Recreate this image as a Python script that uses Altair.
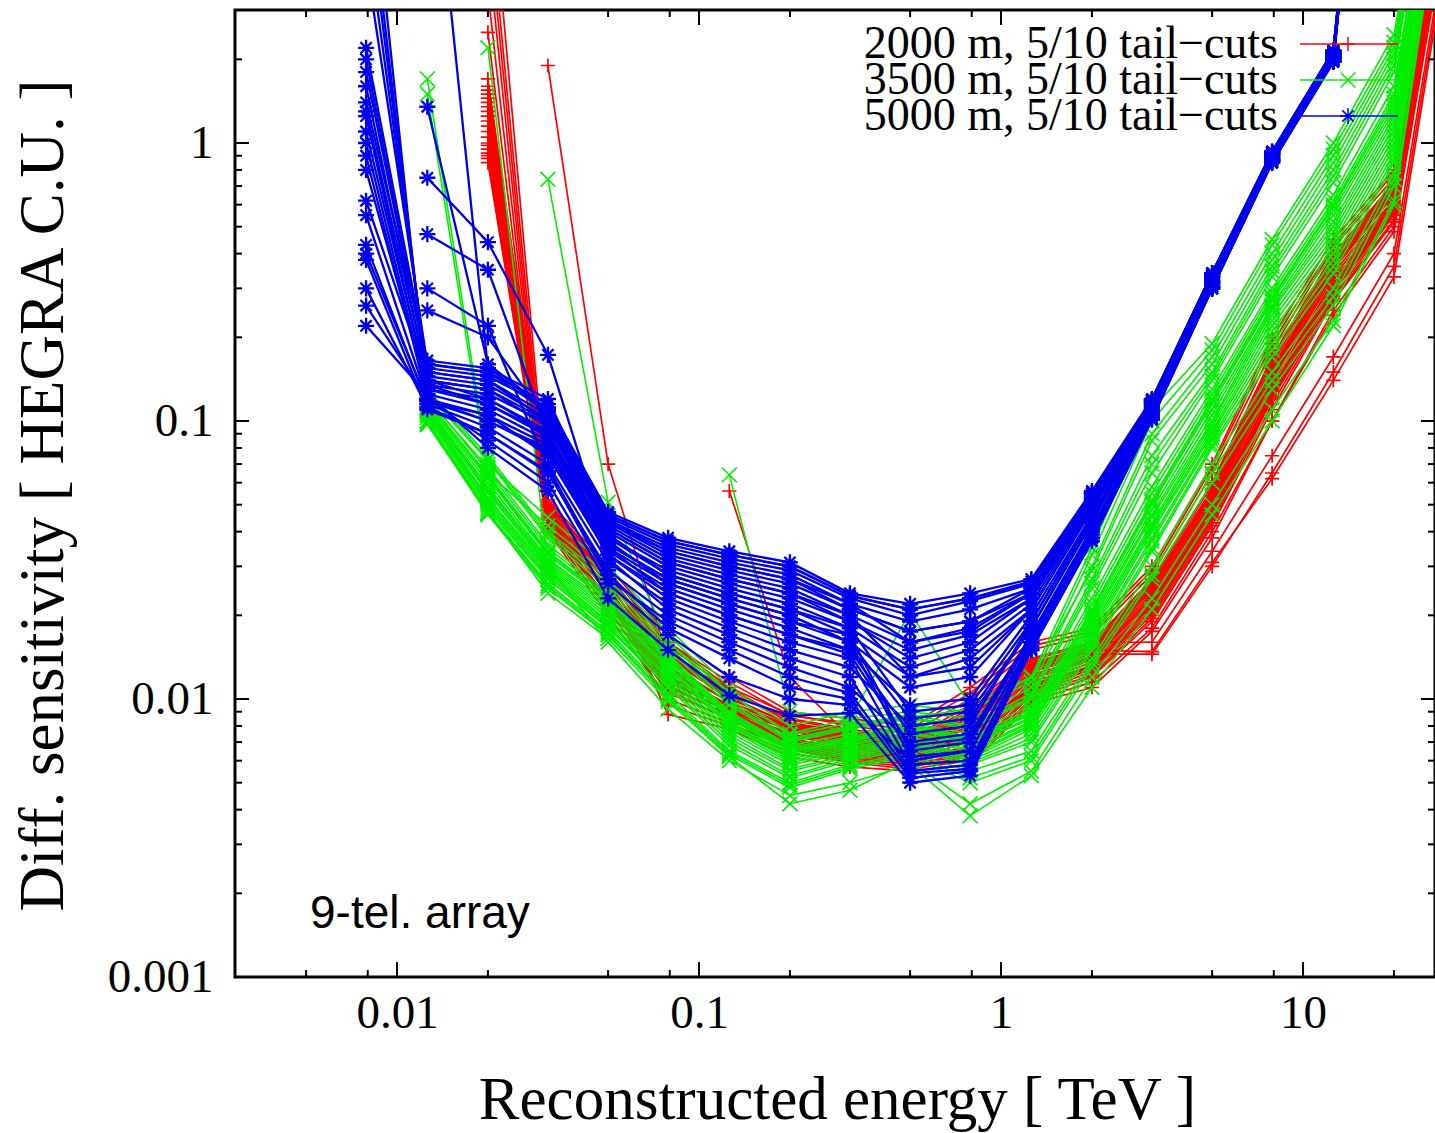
import altair as alt
import pandas as pd

N = None

# Reconstructed-energy bin centres [TeV]
ENERGY = [0.0079, 0.0126, 0.02, 0.0316, 0.05, 0.079, 0.126, 0.2, 0.316, 0.5,
          0.79, 1.26, 2.0, 3.16, 5.0, 7.9, 12.6, 20.0, 31.6]

GROUPS = ["2000 m, 5/10 tail\u2212cuts", "3500 m, 5/10 tail\u2212cuts", "5000 m, 5/10 tail\u2212cuts"]
COLORS = ["#ff0000", "#00ee00", "#0000ee"]

# 2000 m lines (one list per line, values per energy bin)
RED_LINES = [
    [N, N, 1.70, 0.052, 0.030, 0.017, 0.0120, 0.0090, 0.0085, 0.0080, 0.0110, 0.0160, 0.0180, 0.030, 0.070, 0.200, 0.45, 0.80, 15],
    [N, N, 1.50, 0.050, 0.029, 0.016, 0.0110, 0.0088, 0.0080, 0.0075, 0.0100, 0.0150, 0.0170, 0.028, 0.065, 0.180, 0.42, 0.75, 14],
    [N, N, 1.35, 0.049, 0.028, 0.015, 0.0105, 0.0085, 0.0078, 0.0072, 0.0095, 0.0140, 0.0160, 0.027, 0.060, 0.170, 0.40, 0.72, 13],
    [N, N, 1.25, 0.047, 0.027, 0.014, 0.0100, 0.0082, 0.0075, 0.0070, 0.0090, 0.0135, 0.0155, 0.026, 0.057, 0.160, 0.38, 0.70, 13],
    [N, N, 1.15, 0.046, 0.026, 0.013, 0.0098, 0.0080, 0.0072, 0.0068, 0.0085, 0.0130, 0.0150, 0.025, 0.055, 0.150, 0.36, 0.68, 12],
    [N, N, 1.05, 0.045, 0.025, 0.0125, 0.0095, 0.0078, 0.0070, 0.0066, 0.0080, 0.0125, 0.0145, 0.024, 0.052, 0.145, 0.35, 0.65, 12],
    [N, N, 1.00, 0.044, 0.024, 0.012, 0.0092, 0.0075, 0.0068, 0.0064, 0.0076, 0.0120, 0.0140, 0.023, 0.050, 0.140, 0.33, 0.62, 11],
    [N, N, 0.95, 0.043, 0.023, 0.0115, 0.0090, 0.0072, 0.0066, 0.0062, 0.0072, 0.0115, 0.0135, 0.022, 0.048, 0.130, 0.31, 0.60, 11],
    [N, N, 0.90, 0.042, 0.022, 0.011, 0.0088, 0.0070, 0.0064, 0.0060, 0.0068, 0.0110, 0.0130, 0.021, 0.046, 0.125, 0.30, 0.58, 10],
    [N, N, 0.85, 0.041, 0.021, 0.0105, 0.0085, 0.0068, 0.0062, 0.0058, 0.0064, 0.0105, 0.0125, 0.020, 0.044, 0.120, 0.28, 0.55, 10],
    [N, N, 5.00, 0.040, 0.020, 0.0100, 0.0082, 0.0066, 0.0060, 0.0057, 0.0062, 0.0100, 0.0120, 0.019, 0.042, 0.110, 0.27, 0.52, 9],
    [N, N, 8.00, 0.045, 0.024, 0.0095, 0.0080, 0.0064, 0.0059, 0.0056, 0.0060, 0.0098, 0.0115, 0.018, 0.040, 0.100, 0.25, 0.50, 9],
    [N, N, 12.0, 0.048, 0.026, 0.0088, 0.0078, 0.0062, 0.0057, 0.0055, 0.0058, 0.0096, 0.0110, 0.0175, 0.038, 0.100, 0.24, 0.48, 9],
    [N, N, N, 1.90, 0.070, 0.014, 0.0110, 0.0082, 0.0076, 0.0069, 0.0088, 0.0130, 0.0160, 0.016, 0.034, 0.075, 0.17, 0.40, 8],
    [N, N, 1.60, 0.051, 0.028, 0.013, 0.0098, 0.0079, 0.0071, 0.0066, 0.0082, 0.0125, 0.0150, 0.0148, 0.031, 0.062, 0.14, 0.33, 7],
    [N, N, N, N, N, N, 0.056, 0.0120, 0.0073, 0.0062, 0.0074, 0.0110, 0.0145, 0.0145, 0.030, 0.065, 0.15, 0.36, 7.5],
    [N, N, 1.30, 0.050, 0.027, 0.016, 0.0115, 0.0087, 0.0082, 0.0078, 0.0105, 0.0155, 0.0175, 0.029, 0.068, 0.190, 0.43, 0.78, 15],
    [N, N, 2.50, 0.043, 0.025, 0.0125, 0.0093, 0.0077, 0.0067, 0.0061, 0.0074, 0.0112, 0.0130, 0.022, 0.047, 0.130, 0.32, 0.60, 11],
    [N, N, 1.45, 0.049, 0.028, 0.0145, 0.0102, 0.0081, 0.0074, 0.0069, 0.0088, 0.0133, 0.0153, 0.0255, 0.056, 0.155, 0.37, 0.69, 12],
    [N, N, 1.20, 0.046, 0.026, 0.0135, 0.0097, 0.0079, 0.0071, 0.0067, 0.0083, 0.0128, 0.0148, 0.0245, 0.053, 0.148, 0.355, 0.66, 12],
    [N, N, 1.10, 0.045, 0.025, 0.0128, 0.0094, 0.0077, 0.0069, 0.0065, 0.0079, 0.0122, 0.0142, 0.0235, 0.051, 0.142, 0.34, 0.63, 11],
    [N, N, 0.98, 0.044, 0.024, 0.0122, 0.0091, 0.0074, 0.0067, 0.0063, 0.0074, 0.0118, 0.0138, 0.0225, 0.049, 0.135, 0.32, 0.61, 11],
    [N, N, 0.92, 0.043, 0.023, 0.0118, 0.0089, 0.0071, 0.0065, 0.0061, 0.0070, 0.0112, 0.0132, 0.0215, 0.047, 0.128, 0.305, 0.59, 10],
    [N, N, 3.50, 0.042, 0.022, 0.0112, 0.0087, 0.0069, 0.0063, 0.0059, 0.0066, 0.0108, 0.0128, 0.0205, 0.045, 0.122, 0.29, 0.56, 10],
    [N, N, 6.50, 0.041, 0.021, 0.0108, 0.0084, 0.0067, 0.0061, 0.0058, 0.0063, 0.0103, 0.0122, 0.0195, 0.043, 0.115, 0.275, 0.53, 9],
    [N, N, 1.55, 0.051, 0.029, 0.0155, 0.0108, 0.0084, 0.0077, 0.0071, 0.0092, 0.0138, 0.0158, 0.0265, 0.059, 0.165, 0.39, 0.71, 13],
    [N, N, 1.40, 0.048, 0.027, 0.0142, 0.0101, 0.0081, 0.0073, 0.0068, 0.0086, 0.0131, 0.0151, 0.0252, 0.054, 0.152, 0.365, 0.67, 12],
    [N, N, 0.88, 0.042, 0.0225, 0.0112, 0.0087, 0.0071, 0.0063, 0.0059, 0.0067, 0.0107, 0.0128, 0.0205, 0.045, 0.123, 0.295, 0.57, 10],
]

# 3500 m lines
GREEN_LINES = [
    [N, 1.70, 0.070, 0.045, 0.030, 0.018, 0.0110, 0.0080, 0.0090, 0.0095, 0.0090, 0.0120, 0.035, 0.110, 0.190, 0.45, 1.00, 2.45, 40],
    [N, 1.50, 0.065, 0.042, 0.028, 0.017, 0.0105, 0.0075, 0.0085, 0.0090, 0.0085, 0.0110, 0.030, 0.090, 0.170, 0.40, 0.90, 2.20, 40],
    [N, 0.130, 0.075, 0.040, 0.027, 0.016, 0.0100, 0.0072, 0.0080, 0.0088, 0.0080, 0.0105, 0.027, 0.075, 0.150, 0.36, 0.80, 2.00, 35],
    [N, 0.125, 0.072, 0.038, 0.025, 0.015, 0.0095, 0.0070, 0.0078, 0.0085, 0.0078, 0.0100, 0.025, 0.065, 0.140, 0.33, 0.72, 1.80, 35],
    [N, 0.120, 0.068, 0.036, 0.024, 0.0145, 0.0090, 0.0068, 0.0075, 0.0082, 0.0075, 0.0095, 0.023, 0.058, 0.130, 0.30, 0.65, 1.60, 30],
    [N, 0.118, 0.064, 0.034, 0.023, 0.0140, 0.0088, 0.0066, 0.0072, 0.0080, 0.0072, 0.0090, 0.021, 0.052, 0.120, 0.28, 0.60, 1.45, 30],
    [N, 0.115, 0.060, 0.032, 0.022, 0.0135, 0.0085, 0.0064, 0.0070, 0.0078, 0.0070, 0.0088, 0.020, 0.048, 0.110, 0.26, 0.55, 1.30, 28],
    [N, 0.112, 0.057, 0.031, 0.021, 0.0130, 0.0082, 0.0062, 0.0068, 0.0075, 0.0068, 0.0085, 0.019, 0.045, 0.100, 0.25, 0.50, 1.20, 25],
    [N, 0.110, 0.055, 0.030, 0.020, 0.0125, 0.0080, 0.0060, 0.0066, 0.0072, 0.0065, 0.0082, 0.018, 0.042, 0.095, 0.23, 0.46, 1.10, 25],
    [N, 0.108, 0.052, 0.029, 0.019, 0.0120, 0.0076, 0.0058, 0.0064, 0.0070, 0.0062, 0.0080, 0.017, 0.040, 0.090, 0.21, 0.42, 1.00, 22],
    [N, 0.105, 0.050, 0.028, 0.0185, 0.0115, 0.0072, 0.0055, 0.0062, 0.0068, 0.0060, 0.0075, 0.016, 0.037, 0.085, 0.19, 0.38, 0.92, 22],
    [N, 0.100, 0.048, 0.027, 0.018, 0.0110, 0.0068, 0.0052, 0.0060, 0.0066, 0.0058, 0.0070, 0.015, 0.034, 0.080, 0.17, 0.34, 0.85, 20],
    [N, 0.100, 0.047, 0.026, 0.0175, 0.0105, 0.0065, 0.0050, 0.0058, 0.0064, 0.0055, 0.0065, 0.014, 0.030, 0.070, 0.15, 0.30, 0.78, 20],
    [N, 0.098, 0.046, 0.025, 0.017, 0.0100, 0.0063, 0.0048, 0.0056, 0.0062, 0.0050, 0.0060, 0.013, 0.027, 0.060, 0.13, 0.26, 0.70, 18],
    [N, 0.097, 0.047, 0.024, 0.0165, 0.0098, 0.0062, 0.0042, 0.0047, 0.0060, 0.0042, 0.0055, 0.012, 0.023, 0.050, 0.11, 0.23, 0.62, 18],
    [N, N, 2.20, 0.030, 0.016, 0.0092, 0.0060, 0.0045, 0.0050, 0.0058, 0.0038, 0.0053, 0.011, 0.021, 0.046, 0.10, 0.22, 0.60, 16],
    [N, N, N, 0.74, 0.051, 0.016, 0.0105, 0.0074, 0.0082, 0.0086, 0.0092, 0.0115, 0.033, 0.100, 0.180, 0.43, 0.95, 2.30, 40],
    [N, N, N, N, N, N, 0.064, 0.0090, 0.0085, 0.0205, 0.0095, 0.0120, 0.029, 0.085, 0.160, 0.38, 0.85, 2.10, 38],
    [N, 0.122, 0.066, 0.035, 0.0235, 0.0142, 0.0089, 0.0067, 0.0073, 0.0081, 0.0073, 0.0092, 0.022, 0.055, 0.125, 0.29, 0.62, 1.50, 30],
    [N, 0.116, 0.062, 0.033, 0.0225, 0.0138, 0.0086, 0.0065, 0.0071, 0.0079, 0.0071, 0.0089, 0.0205, 0.050, 0.115, 0.27, 0.57, 1.35, 28],
    [N, 0.113, 0.058, 0.0315, 0.0215, 0.0132, 0.0083, 0.0063, 0.0069, 0.0076, 0.0069, 0.0086, 0.0195, 0.046, 0.105, 0.255, 0.52, 1.25, 26],
    [N, 0.111, 0.056, 0.0305, 0.0205, 0.0128, 0.0081, 0.0061, 0.0067, 0.0073, 0.0066, 0.0083, 0.0185, 0.043, 0.098, 0.24, 0.48, 1.15, 25],
    [N, 0.109, 0.053, 0.0295, 0.0195, 0.0122, 0.0078, 0.0059, 0.0065, 0.0071, 0.0063, 0.0081, 0.0175, 0.041, 0.092, 0.22, 0.44, 1.05, 23],
    [N, 0.106, 0.051, 0.0285, 0.0188, 0.0118, 0.0074, 0.0056, 0.0063, 0.0069, 0.0061, 0.0078, 0.0165, 0.038, 0.087, 0.20, 0.40, 0.96, 22],
    [N, 0.103, 0.049, 0.0275, 0.0182, 0.0112, 0.0070, 0.0053, 0.0061, 0.0067, 0.0059, 0.0072, 0.0155, 0.035, 0.082, 0.18, 0.36, 0.88, 21],
    [N, 0.127, 0.073, 0.039, 0.026, 0.0155, 0.0097, 0.0071, 0.0079, 0.0086, 0.0079, 0.0102, 0.026, 0.070, 0.145, 0.345, 0.76, 1.90, 35],
    [N, 0.119, 0.063, 0.0335, 0.0228, 0.0139, 0.0087, 0.0065, 0.0071, 0.0079, 0.0071, 0.0089, 0.021, 0.051, 0.118, 0.275, 0.59, 1.40, 29],
    [N, 0.099, 0.0465, 0.0255, 0.0172, 0.0102, 0.0064, 0.0049, 0.0057, 0.0063, 0.0052, 0.0062, 0.0135, 0.028, 0.065, 0.14, 0.28, 0.74, 19],
]

# 5000 m: values listed per energy bin (entry i of every list belongs to line i)
BLUE_BY_BIN = [
    [2.2, 2.0, 1.6, 1.4, 1.25, 1.0, 0.9, 0.62, 0.43, 0.38, 0.26, 0.22, 6.0, 10.0, 15.0, N, N, N, N, N,
     1.8, 1.3, 1.1, 0.8, 0.55, 0.4, 0.3, 8.0, 4.5, N],
    [0.16, 0.15, 0.14, 0.165, 0.13, 0.125, 0.12, 0.14, 0.115, 0.11, 0.12, 0.125, 0.15, 0.135, 0.118, 1.35, 0.75, 0.47, 0.30, 20.0,
     0.155, 0.145, 0.135, 0.13, 0.12, 0.118, 0.112, 0.14, 0.16, 0.25],
    [0.15, 0.14, 0.13, 0.155, 0.12, 0.11, 0.10, 0.13, 0.095, 0.09, 0.085, 0.08, 0.14, 0.115, 0.105, 0.16, 0.44, 0.35, 0.22, 0.155,
     0.145, 0.135, 0.125, 0.115, 0.105, 0.10, 0.09, 0.12, 0.15, 0.20],
    [0.115, 0.105, 0.10, 0.11, 0.09, 0.085, 0.08, 0.095, 0.07, 0.065, 0.06, 0.056, 0.10, 0.088, 0.075, 0.11, 0.173, 0.09, 0.068, 0.12,
     0.112, 0.102, 0.098, 0.09, 0.082, 0.078, 0.066, 0.092, 0.108, 0.10],
    [0.047, 0.044, 0.042, 0.045, 0.038, 0.036, 0.034, 0.040, 0.031, 0.029, 0.026, 0.023, 0.043, 0.037, 0.033, 0.046, 0.035, 0.032, 0.028, 0.041,
     0.046, 0.043, 0.041, 0.039, 0.035, 0.033, 0.027, 0.038, 0.044, 0.036],
    [0.038, 0.035, 0.032, 0.036, 0.029, 0.027, 0.025, 0.030, 0.022, 0.020, 0.017, 0.015, 0.033, 0.026, 0.023, 0.037, 0.024, 0.021, 0.018, 0.031,
     0.037, 0.034, 0.031, 0.028, 0.026, 0.024, 0.019, 0.028, 0.034, 0.027],
    [0.034, 0.031, 0.028, 0.032, 0.025, 0.023, 0.021, 0.026, 0.018, 0.016, 0.012, 0.0103, 0.029, 0.022, 0.019, 0.033, 0.020, 0.017, 0.014, 0.027,
     0.033, 0.030, 0.027, 0.024, 0.022, 0.020, 0.015, 0.024, 0.030, 0.023],
    [0.031, 0.028, 0.025, 0.029, 0.022, 0.020, 0.018, 0.023, 0.015, 0.013, 0.010, 0.0087, 0.026, 0.019, 0.016, 0.030, 0.017, 0.014, 0.011, 0.024,
     0.030, 0.027, 0.024, 0.021, 0.019, 0.017, 0.012, 0.021, 0.027, 0.020],
    [0.024, 0.022, 0.020, 0.023, 0.018, 0.016, 0.015, 0.019, 0.013, 0.011, 0.0095, 0.0089, 0.021, 0.017, 0.014, 0.0235, 0.015, 0.012, 0.010, 0.020,
     0.0235, 0.021, 0.019, 0.017, 0.016, 0.0145, 0.0105, 0.018, 0.022, 0.016],
    [0.022, 0.019, 0.016, 0.020, 0.013, 0.011, 0.0095, 0.014, 0.008, 0.007, 0.006, 0.005, 0.0175, 0.0065, 0.0058, 0.021, 0.0075, 0.0055, 0.0052, 0.012,
     0.021, 0.0175, 0.015, 0.012, 0.0085, 0.0068, 0.0054, 0.009, 0.016, 0.0062],
    [0.024, 0.021, 0.018, 0.0225, 0.015, 0.012, 0.010, 0.016, 0.0085, 0.0075, 0.0065, 0.0053, 0.019, 0.007, 0.006, 0.023, 0.008, 0.0058, 0.0055, 0.013,
     0.023, 0.019, 0.017, 0.014, 0.009, 0.0072, 0.0056, 0.0095, 0.0175, 0.0065],
    [0.027, 0.025, 0.024, 0.026, 0.022, 0.021, 0.020, 0.023, 0.018, 0.017, 0.016, 0.015, 0.025, 0.0165, 0.0155, 0.026, 0.019, 0.016, 0.015, 0.021,
     0.0265, 0.024, 0.023, 0.021, 0.018, 0.017, 0.0152, 0.019, 0.024, 0.016],
    [0.056, 0.054, 0.052, 0.055, 0.050, 0.048, 0.046, 0.051, 0.043, 0.041, 0.039, 0.037, 0.053, 0.040, 0.038, 0.055, 0.045, 0.040, 0.037, 0.049,
     0.055, 0.053, 0.051, 0.048, 0.044, 0.041, 0.038, 0.045, 0.052, 0.040],
    [0.12, 0.118, 0.116, 0.119, 0.114, 0.112, 0.11, 0.115, 0.108, 0.106, 0.104, 0.102, 0.117, 0.105, 0.103, 0.119, 0.11, 0.105, 0.101, 0.113,
     0.119, 0.117, 0.115, 0.112, 0.109, 0.106, 0.102, 0.109, 0.116, 0.105],
    [0.34, 0.335, 0.33, 0.34, 0.325, 0.32, 0.315, 0.33, 0.31, 0.305, 0.30, 0.30, 0.335, 0.305, 0.30, 0.34, 0.315, 0.305, 0.30, 0.32,
     0.34, 0.335, 0.33, 0.32, 0.315, 0.31, 0.30, 0.315, 0.33, 0.305],
    [0.93, 0.92, 0.91, 0.93, 0.90, 0.89, 0.88, 0.91, 0.87, 0.87, 0.86, 0.85, 0.92, 0.86, 0.86, 0.93, 0.88, 0.86, 0.85, 0.90,
     0.93, 0.92, 0.91, 0.90, 0.88, 0.87, 0.85, 0.88, 0.91, 0.87],
    [2.15, 2.12, 2.1, 2.14, 2.08, 2.06, 2.05, 2.1, 2.02, 2.0, 1.98, 1.96, 2.12, 2.0, 1.98, 2.15, 2.04, 2.0, 1.96, 2.08,
     2.15, 2.12, 2.1, 2.08, 2.04, 2.02, 1.96, 2.04, 2.1, 2.0],
    [300, 300, 300, 300, 300, 300, 300, 300, 300, 300, 300, 300, 300, 300, 300, 300, 300, 300, 300, 300,
     300, 300, 300, 300, 300, 300, 300, 300, 300, 300],
    [N, N, N, N, N, N, N, N, N, N, N, N, N, N, N, N, N, N, N, N,
     N, N, N, N, N, N, N, N, N, N],
]

# Axis ticks
X_MAJOR = [0.01, 0.1, 1, 10]
X_MINOR = [0.005, 0.008, 0.02, 0.05, 0.08, 0.2, 0.5, 0.8, 2, 5, 8, 20]
Y_MAJOR = [0.001, 0.01, 0.1, 1]
Y_MINOR = [0.002, 0.003, 0.004, 0.005, 0.006, 0.007, 0.008, 0.009,
           0.02, 0.03, 0.04, 0.05, 0.06, 0.07, 0.08, 0.09,
           0.2, 0.3, 0.4, 0.5, 0.6, 0.7, 0.8, 0.9, 2]

ANNOTATION = "9-tel. array"

# ---------------------------------------------------------------------------
W, H = 1200, 967
SERIF = "Liberation Serif"

blue_lines = [[BLUE_BY_BIN[k][i] for k in range(len(ENERGY))] for i in range(len(BLUE_BY_BIN[0]))]


def build(lines, group):
    rows = []
    for i, ln in enumerate(lines):
        for e, v in zip(ENERGY, ln):
            if v is not None:
                rows.append({"group": group, "line": f"{group}-{i}", "energy": e, "value": v})
    return pd.DataFrame(rows)


xscale = alt.Scale(type="log", domain=[0.002908, 27.35], nice=False)
yscale = alt.Scale(type="log", domain=[0.001, 3.009], nice=False)

x_axis = alt.Axis(values=X_MAJOR, format="~g", ticks=False, tickSize=0, domain=False, grid=False,
                  labelFont=SERIF, labelFontSize=47, labelColor="black", labelPadding=13,
                  labelFlush=False, labelOverlap=False,
                  title="Reconstructed energy [ TeV ]", titleFont=SERIF, titleFontSize=61,
                  titleFontWeight="normal", titleColor="black", titleBaseline="alphabetic",
                  titleAlign="center", titleX=602, titleY=141)
y_axis = alt.Axis(values=Y_MAJOR, format="~g", ticks=False, tickSize=0, domain=False, grid=False,
                  labelFont=SERIF, labelFontSize=47, labelColor="black", labelPadding=22,
                  labelFlush=False, labelOverlap=False,
                  title="Diff. sensitivity [ HEGRA C.U. ]", titleFont=SERIF, titleFontSize=63,
                  titleFontWeight="normal", titleColor="black", titleBaseline="alphabetic",
                  titleAlign="center", titleAngle=270, titleX=-173, titleY=485)


def X(field):
    return alt.X(field, scale=xscale, axis=x_axis)


def Y(field):
    return alt.Y(field, scale=yscale, axis=y_axis)


PLUS = "M-1,0L1,0M0,-1L0,1"
CROSS = "M-1,-1L1,1M-1,1L1,-1"
STAR = "M-1,0L1,0M0,-1L0,1M-0.7,-0.7L0.7,0.7M-0.7,0.7L0.7,-0.7"
SHAPES = [PLUS, CROSS, STAR]
LW = [1.7, 1.6, 2.3]
PSIZE = [200, 220, 260]

layers = []
all_lines = [RED_LINES, GREEN_LINES, blue_lines]
for gi, (lines, grp) in enumerate(zip(all_lines, GROUPS)):
    df = build(lines, grp)
    ln = alt.Chart(df).mark_line(color=COLORS[gi], strokeWidth=LW[gi], clip=True).encode(
        x=X("energy:Q"), y=Y("value:Q"), detail="line:N", order="energy:Q")
    pt = alt.Chart(df).mark_point(shape=SHAPES[gi], color=COLORS[gi], filled=False,
                                  strokeWidth=LW[gi], size=PSIZE[gi], opacity=1, clip=True).encode(
        x=X("energy:Q"), y=Y("value:Q"))
    layers += [ln, pt]


# tick marks (inward, mirrored like gnuplot)
def xticks(vals, length):
    d = pd.DataFrame({"energy": vals})
    bottom = alt.Chart(d).mark_rule(color="black", strokeWidth=2).encode(
        x=X("energy:Q"), y=alt.value(H), y2=alt.value(H - length))
    top = alt.Chart(d).mark_rule(color="black", strokeWidth=2).encode(
        x=X("energy:Q"), y=alt.value(0), y2=alt.value(length))
    return [bottom, top]


def yticks(vals, length):
    d = pd.DataFrame({"value": vals})
    left = alt.Chart(d).mark_rule(color="black", strokeWidth=2).encode(
        y=Y("value:Q"), x=alt.value(0), x2=alt.value(length))
    right = alt.Chart(d).mark_rule(color="black", strokeWidth=2).encode(
        y=Y("value:Q"), x=alt.value(W), x2=alt.value(W - length))
    return [left, right]


layers += xticks(X_MAJOR, 15) + xticks(X_MINOR, 7) + yticks(Y_MAJOR, 14) + yticks(Y_MINOR, 7)

# legend (gnuplot style, top-right inside the plot)
for gi, grp in enumerate(GROUPS):
    yy = 34 + 36 * gi
    d1 = pd.DataFrame({"t": [grp]})
    layers.append(alt.Chart(d1).mark_text(align="right", baseline="middle", font=SERIF,
                                          fontSize=46, color="black").encode(
        x=alt.value(1043), y=alt.value(yy), text="t:N"))
    layers.append(alt.Chart(d1).mark_rule(color=COLORS[gi], strokeWidth=1.5).encode(
        x=alt.value(1065), x2=alt.value(1163), y=alt.value(yy)))
    layers.append(alt.Chart(d1).mark_point(shape=SHAPES[gi], color=COLORS[gi], filled=False,
                                           strokeWidth=1.5, size=PSIZE[gi], opacity=1).encode(
        x=alt.value(1113), y=alt.value(yy)))

layers.append(alt.Chart(pd.DataFrame({"t": [ANNOTATION]})).mark_text(
    align="left", baseline="alphabetic", font="Liberation Sans", fontSize=46, color="black").encode(
    x=alt.value(75), y=alt.value(918), text="t:N"))

chart = alt.layer(*layers).properties(
    width=W, height=H,
    padding={"left": 235, "top": 10, "right": 0, "bottom": 156},
    autosize=alt.AutoSizeParams(type="none"),
    background="white",
).configure_view(stroke="black", strokeWidth=3, fill="white")

chart.save("out.html", embed_options={"renderer": "svg", "actions": False})
